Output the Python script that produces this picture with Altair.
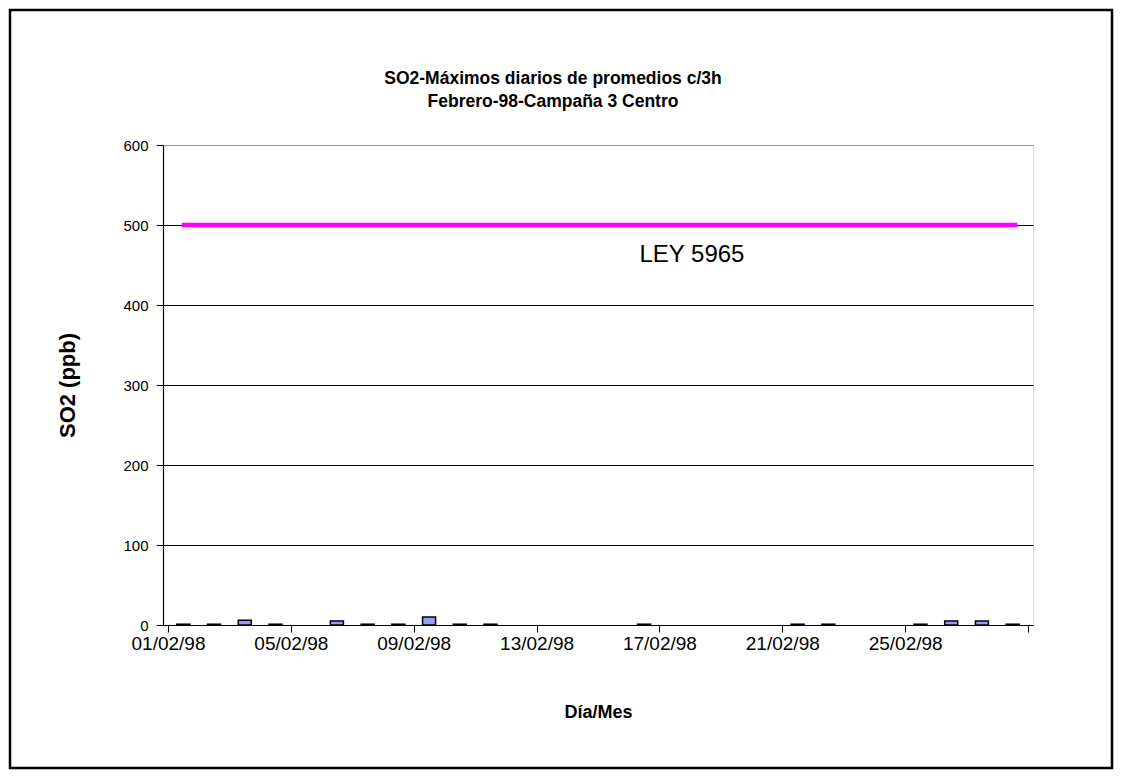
import altair as alt
import pandas as pd

# --- data ---
days = [1, 2, 3, 4, 6, 7, 8, 9, 10, 11, 16, 21, 22, 25, 26, 27, 28]
so2_max = [1, 1, 6, 1, 5, 1, 1, 10, 1, 1, 1, 1, 1, 1, 5, 5, 1]

tick_days = [0, 4, 8, 12, 16, 20, 24, 28]
tick_labels = ["01/02/98", "05/02/98", "09/02/98", "13/02/98",
               "17/02/98", "21/02/98", "25/02/98", ""]

ley_value = 500
ley_start = 0.45
ley_end = 27.65
ley_label = "LEY 5965"
ley_label_pos = 15.35
ley_label_y = 462

title_lines = ["SO2-Máximos diarios de promedios c/3h", "Febrero-98-Campaña 3 Centro"]

FONT = "Liberation Sans"

bars_df = pd.DataFrame({"pos": [d - 0.5 for d in days], "SO2": so2_max})
ley_df = pd.DataFrame({"x1": [ley_start], "x2": [ley_end], "y": [ley_value]})
text_df = pd.DataFrame({"x": [ley_label_pos], "y": [ley_label_y], "t": [ley_label]})

label_map = "{" + ",".join(f"'{d}':'{l}'" for d, l in zip(tick_days, tick_labels)) + "}"

x_scale = alt.Scale(domain=[0, 28], nice=False, zero=False)
y_scale = alt.Scale(domain=[0, 600], nice=False)

x_axis = alt.Axis(values=tick_days, labelExpr=f"{label_map}[toString(datum.value)]",
                  title="Día/Mes", grid=False, domainColor="black", tickColor="black",
                  tickSize=7, labelPadding=2, labelFontSize=19, labelFont=FONT,
                  labelColor="black", titleFont=FONT, titleFontSize=18,
                  titleFontWeight="bold", titleColor="black", titlePadding=50,
                  labelFlush=False, labelOverlap=False, domainWidth=1.2)

y_axis = alt.Axis(values=[0, 100, 200, 300, 400, 500, 600], title="SO2 (ppb)",
                  gridColor={"condition": {"test": "datum.value == 600", "value": "#999999"},
                             "value": "black"},
                  gridWidth=1.2, domainColor="black", tickColor="black", tickSize=7,
                  labelPadding=8, labelFontSize=15, labelFont=FONT, labelColor="black",
                  titleFont=FONT, titleFontSize=22, titleFontWeight="bold",
                  titleColor="black", titlePadding=43, domainWidth=1.2)

bars = alt.Chart(bars_df).mark_bar(
    size=13, color="#9999FF", stroke="black", strokeWidth=1.5
).encode(
    x=alt.X("pos:Q", scale=x_scale, axis=x_axis),
    y=alt.Y("SO2:Q", scale=y_scale, axis=y_axis),
)

ley = alt.Chart(ley_df).mark_rule(color="#FF00FF", strokeWidth=4.5).encode(
    x=alt.X("x1:Q", scale=x_scale), x2="x2:Q",
    y=alt.Y("y:Q", scale=y_scale),
)

ley_text = alt.Chart(text_df).mark_text(
    align="left", baseline="middle", fontSize=24, font=FONT, color="black"
).encode(
    x=alt.X("x:Q", scale=x_scale), y=alt.Y("y:Q", scale=y_scale), text="t:N"
)


def title_line(text, ypix):
    return alt.Chart(pd.DataFrame({"t": [text]})).mark_text(
        align="center", baseline="middle", fontSize=17.5, font=FONT, fontWeight="bold",
        color="black"
    ).encode(x=alt.value(390), y=alt.value(ypix), text="t:N")


title1 = title_line(title_lines[0], -66)
title2 = title_line(title_lines[1], -43)

frame = alt.Chart(ley_df).mark_rect(
    fill=None, stroke="black", strokeWidth=2.5
).encode(
    x=alt.value(-153), x2=alt.value(949), y=alt.value(-135), y2=alt.value(623)
)

chart = alt.layer(frame, bars, ley, ley_text, title1, title2).properties(
    width=870, height=480,
    autosize=alt.AutoSizeParams(type="none"),
    padding={"left": 155, "top": 137, "right": 81, "bottom": 145},
).configure_view(stroke="#999999", strokeWidth=1.2).configure(background="white")

chart.save("out.html", embed_options={"renderer": "svg", "actions": False})
